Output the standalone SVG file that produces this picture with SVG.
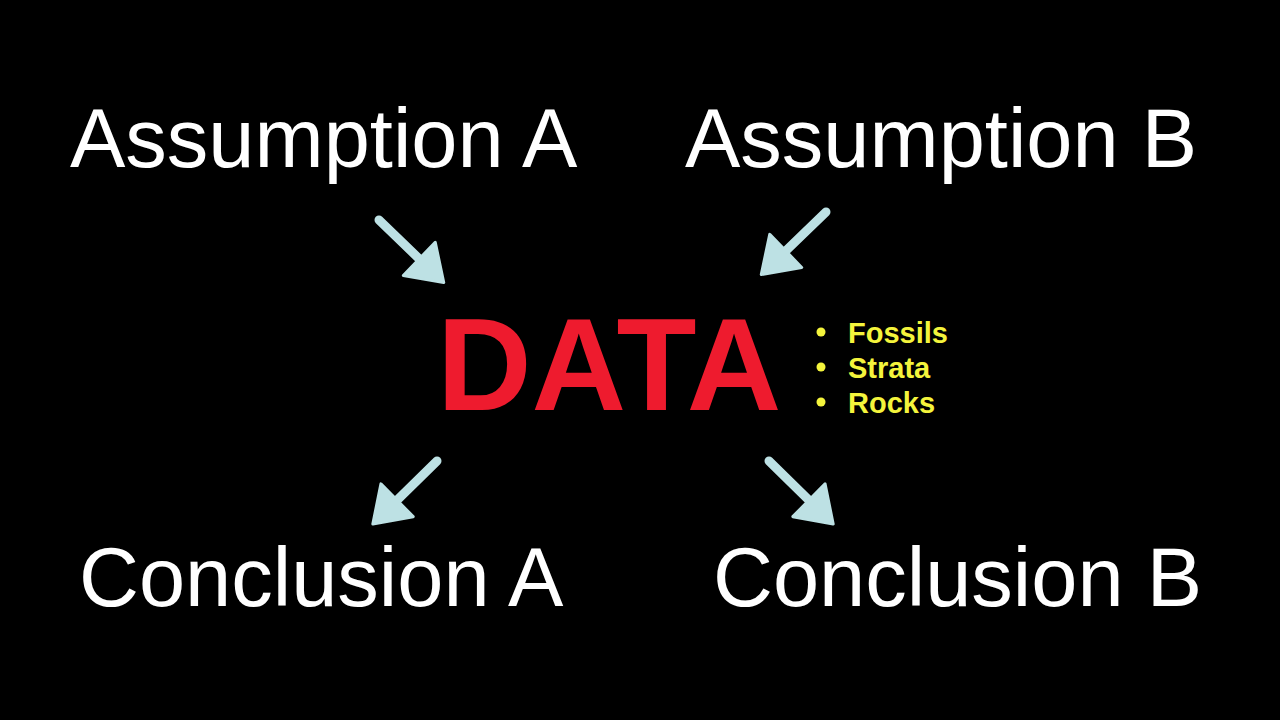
<svg xmlns="http://www.w3.org/2000/svg" xmlns:xlink="http://www.w3.org/1999/xlink" width="1280" height="720" viewBox="0 0 1280 720">
<style>
.lbl{font-family:"Liberation Sans",Arial,sans-serif;font-size:83px;fill:#ffffff}
.data{font-family:"Liberation Sans",Arial,sans-serif;font-size:131px;font-weight:bold;fill:#ee1b2e}
.bul{font-family:"Liberation Sans",Arial,sans-serif;font-size:29px;font-weight:bold;fill:#f4f43c}
.dot{fill:#f4f43c}
</style>
<defs>
<g id="arrow">
<line x1="0" y1="0" x2="60" y2="0" stroke="#bde1e4" stroke-width="9" stroke-linecap="round"/>
<polygon points="56,-23 90,0 56,23" fill="#bde1e4" stroke="#bde1e4" stroke-width="3" stroke-linejoin="round"/>
</g>
</defs>
<rect x="0" y="0" width="1280" height="720" fill="#000000"/>
<g id="connectors">
<use xlink:href="#arrow" transform="translate(379,220) rotate(44)"/>
<use xlink:href="#arrow" transform="translate(826,212) rotate(136)"/>
<use xlink:href="#arrow" transform="translate(437,461) rotate(135.5)"/>
<use xlink:href="#arrow" transform="translate(769,461) rotate(44.5)"/>
</g>
<g id="assumption-a"><text class="lbl" x="70" y="167">Assumption A</text></g>
<g id="assumption-b"><text class="lbl" x="685" y="167">Assumption B</text></g>
<g id="data"><text class="data" x="437" y="410">DATA</text></g>
<g id="data-list">
<circle class="dot" cx="821" cy="332" r="4.5"/><text class="bul" x="848" y="343">Fossils</text>
<circle class="dot" cx="821" cy="367" r="4.5"/><text class="bul" x="848" y="378">Strata</text>
<circle class="dot" cx="821" cy="402" r="4.5"/><text class="bul" x="848" y="413">Rocks</text>
</g>
<g id="conclusion-a"><text class="lbl" x="79" y="606">Conclusion A</text></g>
<g id="conclusion-b"><text class="lbl" x="713" y="606">Conclusion B</text></g>
</svg>
